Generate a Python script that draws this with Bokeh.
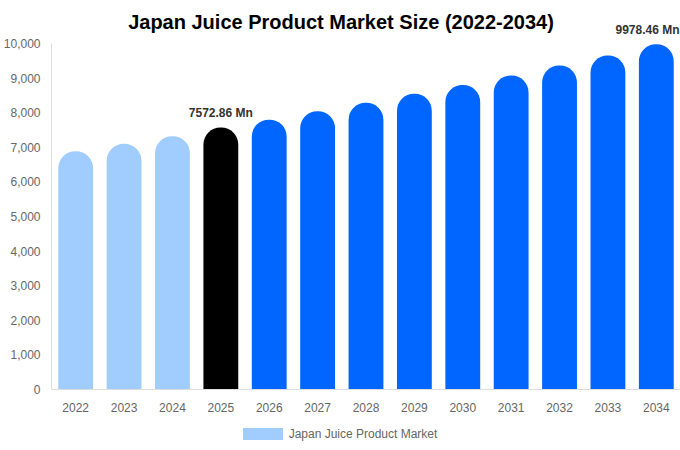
from bokeh.plotting import figure
from bokeh.models import ColumnDataSource, NumeralTickFormatter, FixedTicker, Label, Div
from bokeh.layouts import column
from bokeh.core.properties import value
from bokeh.embed import file_html
from bokeh.resources import INLINE

title_text = "Japan Juice Product Market Size (2022-2034)"
series_name = "Japan Juice Product Market"
years = ["2022", "2023", "2024", "2025", "2026", "2027", "2028", "2029", "2030", "2031", "2032", "2033", "2034"]
values = [6887, 7100, 7320, 7572.86, 7800, 8040, 8290, 8550, 8800, 9075, 9365, 9655, 9978.46]
colors = ["#a0cdfd"] * 3 + ["#000000"] + ["#0066ff"] * 9
label_years = ["2025", "2034"]
label_values = [7572.86, 9978.46]
label_texts = ["7572.86 Mn", "9978.46 Mn"]
y_ticks = [0, 1000, 2000, 3000, 4000, 5000, 6000, 7000, 8000, 9000, 10000]

FONT = "Liberation Sans"
LEGEND_COLOR = "#a0cdfd"

src = ColumnDataSource(dict(x=years, top=values, color=colors))
lsrc1 = ColumnDataSource(dict(x=label_years[:1], y=label_values[:1], text=label_texts[:1]))

# y range extends above 10,000 so the title and top label sit inside the frame
p = figure(x_range=years, y_range=(0, 11243), width=680, height=427,
           output_backend="svg", toolbar_location=None,
           min_border_left=50, min_border_right=0, min_border_top=0, min_border_bottom=38)
p.outline_line_color = None
p.xgrid.visible = False
p.ygrid.visible = False

r = p.vbar(x="x", top="top", width=0.72, source=src, fill_color="color",
           line_color=None, border_radius=(17, 17, 0, 0))

p.text(x="x", y="y", text="text", source=lsrc1, text_align="center", text_baseline="bottom",
       y_offset=-7, text_font=value(FONT), text_font_size="12px",
       text_font_style="bold", text_color="#333333")

# last label: right aligned to the frame edge so it is not cut off
p.add_layout(Label(x=len(years), y=label_values[1], text=label_texts[1], text_align="right",
                   text_baseline="bottom", x_offset=-1, y_offset=7, text_font=FONT,
                   text_font_size="12px", text_font_style="bold", text_color="#333333"))

# title
p.add_layout(Label(x=len(years) / 2, y=10636, text=title_text, text_align="center",
                   text_baseline="middle", x_offset=-25, text_font=FONT,
                   text_font_size="20px", text_font_style="bold", text_color="#000000"))

for ax in (p.xaxis[0], p.yaxis[0]):
    ax.axis_line_color = "#dddddd"
    ax.major_tick_line_color = None
    ax.minor_tick_line_color = None
    ax.major_label_text_color = "#666666"
    ax.major_label_text_font = FONT
    ax.major_label_text_font_size = "12px"
p.yaxis[0].ticker = FixedTicker(ticks=y_ticks)
p.yaxis[0].formatter = NumeralTickFormatter(format="0,0")
p.yaxis[0].bounds = (0, 10000)
p.yaxis[0].major_label_standoff = 5
p.xaxis[0].major_label_standoff = 7

legend_div = Div(
    text=(f'<div style="display:flex;align-items:center;justify-content:center;'
          f'width:680px;height:14px;font-family:\'{FONT}\';font-size:12px;color:#666666;line-height:14px">'
          f'<span style="display:inline-block;width:40px;height:12px;background:{LEGEND_COLOR};'
          f'margin-right:6px"></span>{series_name}</div>'),
    width=680, height=23, margin=0)

layout = column(p, legend_div, spacing=0)
open("out.html", "w").write(file_html(layout, INLINE))
